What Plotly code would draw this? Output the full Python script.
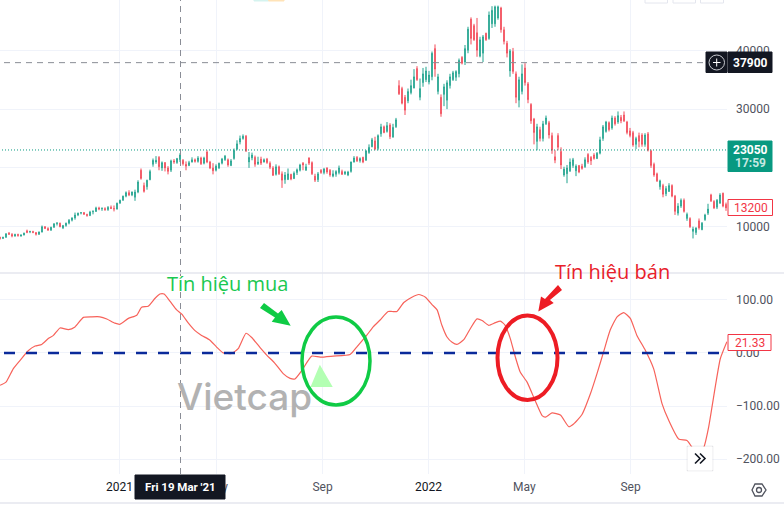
"""Vietcap chart: daily candles with an oscillator pane and hand drawn buy / sell signal marks."""

import plotly.graph_objects as go

WIDTH, HEIGHT = 784, 511
PLOT_W, PLOT_H, PANE_SPLIT = 727, 474, 273

GREEN = "#089981"
RED = "#f23645"
GRID = "#f0f3fa"
BORDER = "#e4e6ee"
DARK = "#131722"
AXIS_TEXT = "#50535e"
FONT = "Roboto"

# candles, in thousands
opens = [
    8.2, 8.0, 8.2, 8.9, 8.7, 8.4, 8.7, 8.4, 8.6, 9.3,
    9.1, 9.2, 9.0, 8.7, 9.1, 10.0, 9.7, 9.4, 9.9, 10.5,
    10.6, 9.8, 10.2, 10.6, 11.1, 11.5, 12.0, 12.3, 12.4, 12.1,
    11.9, 12.5, 12.6, 13.2, 13.0, 13.1, 12.9, 13.3, 13.1, 13.0,
    14.0, 14.5, 15.2, 15.8, 15.4, 15.0, 15.9, 19.6, 17.0, 16.8,
    18.0, 20.6, 21.0, 21.8, 20.0, 20.9, 20.0, 19.6, 21.2, 20.9,
    21.4, 21.3, 20.6, 20.4, 21.0, 21.4, 21.1, 21.7, 20.8, 22.7,
    21.0, 20.0, 19.6, 20.0, 20.8, 21.4, 21.4, 20.4, 21.6, 23.2,
    24.4, 25.0, 25.4, 21.0, 21.7, 21.8, 20.7, 21.5, 21.0, 21.5,
    20.8, 20.0, 18.9, 20.2, 19.0, 18.0, 18.0, 18.9, 18.2, 19.2,
    19.6, 20.8, 19.6, 21.7, 20.9, 18.6, 18.0, 19.6, 19.2, 20.0,
    19.6, 18.6, 18.9, 19.2, 19.4, 19.0, 18.8, 19.4, 21.0, 21.8,
    21.2, 21.8, 21.3, 22.6, 23.6, 24.6, 23.3, 25.8, 27.0, 26.2,
    27.3, 25.2, 27.0, 34.0, 33.5, 32.0, 31.4, 32.8, 33.6, 36.9,
    32.0, 34.5, 35.0, 34.6, 35.5, 40.3, 33.0, 32.0, 32.5, 31.5,
    34.0, 35.0, 35.4, 36.0, 38.8, 38.0, 40.0, 45.3, 44.2, 43.0,
    39.0, 39.5, 42.9, 42.0, 44.5, 44.5, 45.5, 47.2, 43.5, 41.2,
    36.5, 39.8, 36.0, 31.5, 33.0, 37.0, 34.3, 30.8, 28.3, 24.5,
    26.5, 25.0, 27.5, 27.7, 25.5, 21.9, 25.5, 22.8, 18.8, 19.0,
    19.5, 20.4, 19.5, 20.4, 20.3, 20.2, 22.3, 21.8, 22.2, 21.6,
    22.5, 25.0, 26.2, 27.7, 26.8, 28.5, 27.8, 28.6, 29.0, 27.8,
    26.3, 26.0, 24.0, 25.5, 25.6, 24.0, 25.8, 22.9, 20.6, 19.0,
    16.8, 17.0, 15.6, 16.0, 17.0, 15.2, 12.3, 13.5, 14.5, 11.4,
    11.4, 9.2, 9.0, 11.0, 9.5, 11.2, 12.3, 15.4, 14.3, 13.3,
    14.0, 15.7, 13.8,
]
highs = [
    8.3, 8.3, 8.9, 9.1, 8.9, 8.8, 8.8, 8.7, 9.0, 9.5,
    9.3, 9.3, 9.1, 9.2, 10.2, 10.1, 9.9, 10.0, 10.6, 10.8,
    10.7, 10.3, 10.7, 11.3, 11.6, 12.4, 12.4, 12.5, 12.5, 12.2,
    12.7, 12.8, 13.4, 13.4, 13.3, 13.3, 13.5, 13.6, 13.6, 14.1,
    14.6, 15.3, 16.0, 16.2, 16.0, 16.3, 17.9, 19.9, 17.5, 18.0,
    19.7, 21.6, 22.0, 22.0, 21.1, 21.0, 20.3, 21.4, 21.5, 21.7,
    22.5, 21.5, 21.1, 21.2, 21.8, 21.6, 22.0, 21.9, 21.9, 23.0,
    21.2, 20.8, 20.6, 20.9, 21.7, 22.2, 21.6, 21.5, 23.3, 24.7,
    25.5, 25.7, 25.6, 22.7, 22.6, 22.1, 21.9, 21.9, 21.6, 21.7,
    21.1, 20.3, 20.6, 20.4, 19.4, 19.3, 19.9, 19.0, 19.4, 19.9,
    20.7, 21.0, 20.7, 21.8, 21.1, 19.0, 19.3, 19.8, 20.0, 20.1,
    19.8, 19.6, 19.6, 20.4, 19.7, 19.5, 19.5, 21.1, 22.0, 22.0,
    21.8, 21.9, 23.0, 24.0, 25.1, 25.3, 25.7, 27.5, 27.2, 27.8,
    27.6, 27.5, 28.5, 34.9, 33.8, 32.4, 33.5, 35.0, 36.8, 37.3,
    35.2, 37.0, 37.2, 36.5, 39.8, 41.0, 36.0, 32.5, 34.3, 34.9,
    36.0, 36.5, 36.6, 38.6, 39.0, 40.9, 44.0, 45.6, 44.5, 45.5,
    42.3, 42.6, 43.0, 46.6, 47.5, 47.6, 47.6, 47.4, 44.0, 41.6,
    40.2, 40.4, 36.4, 35.5, 37.6, 37.8, 34.6, 31.0, 28.5, 27.5,
    27.0, 28.0, 28.9, 28.0, 26.0, 23.0, 25.9, 23.5, 20.2, 20.5,
    21.6, 21.7, 20.6, 20.5, 20.7, 21.8, 22.5, 22.0, 22.5, 22.7,
    25.3, 27.3, 28.0, 27.9, 28.9, 28.8, 29.6, 29.0, 29.6, 28.0,
    26.8, 26.3, 25.3, 26.0, 25.9, 25.9, 26.1, 23.1, 20.9, 19.2,
    18.0, 17.3, 16.9, 17.4, 17.2, 15.4, 14.0, 14.8, 14.8, 12.4,
    11.6, 10.0, 9.9, 11.4, 10.8, 12.2, 13.9, 15.6, 14.5, 14.7,
    15.7, 15.8, 14.1,
]
lows = [
    7.8, 7.9, 8.1, 8.6, 8.2, 8.3, 8.3, 8.3, 8.5, 8.9,
    8.9, 8.9, 8.5, 8.6, 9.0, 9.6, 9.3, 9.3, 9.8, 10.2,
    9.9, 9.6, 10.0, 10.4, 10.9, 11.2, 11.8, 12.1, 12.0, 11.7,
    11.8, 12.1, 12.5, 12.8, 12.7, 12.7, 12.7, 13.0, 12.6, 12.9,
    13.9, 14.4, 15.0, 15.2, 15.2, 14.4, 15.7, 18.0, 15.8, 16.3,
    17.9, 20.2, 20.7, 19.6, 19.5, 19.4, 18.9, 19.3, 20.7, 20.7,
    21.0, 20.4, 19.6, 20.3, 20.9, 20.9, 20.9, 20.5, 20.6, 20.8,
    19.8, 18.9, 19.4, 19.8, 20.6, 21.2, 20.2, 20.3, 21.4, 23.0,
    24.0, 24.8, 22.7, 20.0, 21.3, 20.2, 20.5, 20.5, 20.9, 20.7,
    19.8, 18.7, 18.7, 18.8, 16.6, 17.3, 18.0, 17.9, 18.1, 18.8,
    19.4, 19.6, 19.5, 20.5, 18.8, 17.6, 17.6, 19.0, 18.9, 19.0,
    18.5, 18.4, 18.5, 18.9, 18.8, 18.8, 18.6, 19.2, 20.9, 21.0,
    20.9, 20.8, 21.2, 22.4, 23.5, 23.0, 23.0, 25.3, 25.9, 26.0,
    24.9, 25.2, 26.8, 32.4, 30.8, 29.0, 31.0, 32.5, 33.5, 34.8,
    31.5, 33.8, 34.6, 34.2, 34.9, 35.5, 32.5, 28.7, 30.5, 30.0,
    33.5, 34.8, 34.8, 35.4, 37.6, 37.5, 39.5, 41.0, 41.6, 38.9,
    38.8, 38.0, 41.6, 41.8, 43.8, 44.0, 45.2, 43.0, 41.0, 38.8,
    35.5, 36.0, 31.0, 30.3, 32.5, 34.0, 31.0, 27.5, 24.0, 23.0,
    24.5, 24.5, 27.3, 25.0, 22.4, 20.8, 23.0, 19.8, 18.5, 17.4,
    19.3, 20.0, 18.6, 19.1, 19.7, 20.0, 20.7, 20.5, 21.4, 21.5,
    22.3, 24.6, 26.0, 26.2, 26.5, 27.2, 27.5, 27.6, 27.8, 25.7,
    25.2, 23.6, 23.2, 23.5, 23.6, 23.6, 22.8, 20.0, 18.5, 17.6,
    16.3, 15.0, 15.2, 15.9, 15.0, 12.0, 11.9, 13.2, 12.4, 11.0,
    9.8, 8.0, 8.6, 9.5, 9.4, 11.0, 12.0, 14.2, 13.0, 13.0,
    13.9, 13.3, 12.7,
]
closes = [
    8.0, 8.2, 8.8, 8.7, 8.4, 8.7, 8.5, 8.6, 8.9, 9.0,
    9.2, 9.0, 8.7, 9.1, 10.0, 9.7, 9.4, 9.9, 10.5, 10.6,
    10.0, 10.2, 10.6, 11.1, 11.5, 12.0, 12.3, 12.4, 12.1, 11.9,
    12.5, 12.6, 13.2, 13.0, 13.1, 12.9, 13.3, 13.1, 13.0, 14.0,
    14.5, 15.2, 15.8, 15.4, 15.9, 15.9, 17.6, 18.2, 16.0, 17.9,
    19.4, 21.3, 21.3, 20.2, 20.9, 20.0, 19.4, 21.2, 21.0, 21.6,
    22.2, 20.7, 20.3, 20.9, 21.4, 21.1, 21.7, 20.7, 21.7, 21.0,
    20.0, 19.5, 20.3, 20.8, 21.5, 22.0, 20.5, 21.2, 23.0, 24.1,
    25.0, 25.4, 22.9, 21.8, 22.2, 20.6, 21.0, 20.8, 21.4, 20.9,
    20.1, 18.7, 20.2, 19.0, 17.9, 18.8, 19.0, 18.1, 19.1, 19.7,
    20.5, 20.5, 20.2, 20.8, 19.0, 17.9, 19.0, 19.2, 19.8, 19.3,
    18.8, 19.0, 19.4, 20.0, 18.9, 19.3, 19.3, 21.0, 21.7, 21.2,
    21.6, 21.0, 22.9, 23.5, 24.8, 23.2, 25.5, 27.0, 26.0, 27.2,
    25.3, 26.9, 28.2, 32.6, 31.0, 29.8, 33.0, 34.0, 35.5, 35.0,
    33.5, 36.0, 36.5, 35.8, 39.5, 36.8, 35.5, 29.2, 33.8, 34.5,
    35.5, 36.2, 36.4, 38.3, 37.8, 40.3, 43.6, 42.0, 41.8, 40.0,
    41.8, 42.3, 41.8, 46.0, 46.8, 47.4, 47.4, 43.5, 41.5, 39.5,
    39.9, 36.4, 32.0, 35.0, 36.0, 34.5, 31.6, 28.0, 26.0, 27.0,
    25.0, 27.5, 28.5, 25.6, 23.0, 21.3, 23.5, 20.5, 19.8, 20.0,
    21.0, 21.4, 20.3, 19.3, 19.9, 21.4, 21.0, 21.2, 21.6, 22.5,
    24.8, 27.0, 27.8, 26.5, 28.5, 27.5, 28.9, 28.0, 28.0, 26.0,
    25.5, 23.9, 25.0, 24.5, 24.0, 25.6, 23.0, 20.4, 18.8, 17.8,
    17.8, 15.5, 16.5, 17.0, 15.2, 12.6, 13.5, 14.5, 12.6, 12.1,
    10.0, 9.6, 9.8, 9.8, 10.6, 12.0, 13.0, 14.4, 13.2, 14.5,
    15.4, 13.5, 13.2,
]
sessions = list(range(len(closes)))

# oscillator, read at its turning points
osc_sessions = [
    0, 2, 4.4, 6.7, 9.4, 11.7, 13.9, 16.1, 17.8, 20, 22.8, 25, 27.8, 30.6, 33.3, 35.6, 38.3, 40,
    42.8, 45.6, 47.2, 49.4, 51.7, 53.3, 54.7, 56.7, 58.9, 60.6, 62.8, 65, 67.2, 70, 72.2, 74.4,
    77.2, 79.4, 82, 83.9, 86.7, 88.9, 91.7, 94.4, 96.7, 98.3, 100.6, 103.9, 106.7, 111.1, 116.7,
    118.9, 122.2, 124.4, 126.7, 129.4, 130.7, 132.3, 134.6, 137.3, 139.6, 141.8, 144, 145.7,
    147.3, 149, 150.7, 152.3, 154.6, 156.8, 159, 160.7, 162.9, 165.1, 166.8, 168.4, 170.1, 171.8,
    173.4, 175.7, 178.4, 180.7, 181.8, 184, 186.8, 189.6, 191.2, 194, 196.8, 199, 201.2, 203.4,
    205.7, 207.9, 210.1, 212.3, 215.1, 217.9, 220.7, 222.9, 226.2, 229, 230.7, 232.6, 234.6,
    236.2, 238.5, 240.1, 242.3,
]
osc_values = [
    -61, -55, -30, -14, 4, 13, 16, 27, 33, 47, 44, 49, 67, 68, 68, 64, 56, 54,
    65, 71, 86, 88, 103, 111, 111, 97, 81, 73, 56, 42, 33, 24, 11, 0,
    -1, 8, 37, 29, 10, -4, -20, -39, -48, -49, -33, -6, -8, -6, -3,
    11, 33, 49, 62, 78, 78, 78, 95, 105, 110, 105, 91, 81,
    52, 30, 20, 16, 25, 46, 64, 61, 52, 57, 60, 52, 27, -8,
    -36, -55, -90, -118, -121, -113, -117, -139, -134, -116, -77, -39, 2, 43,
    68, 76, 65, 33, 5, -30, -96, -127, -162, -165, -178, -195, -178,
    -140, -61, -11, 21,
]

price_ticks = [10000, 20000, 30000, 40000]
osc_ticks = [-200, -100, 0, 100]
time_ticks = [39.8, 72.2, 107.5, 142.8, 174.8, 210.2]
time_labels = ["2021", "May", "Sep", "2022", "May", "Sep"]

CROSS_SESSION = 60.17
CROSS_PRICE = 37900
LAST_PRICE = 23050


def px_x(x):
    return x / PLOT_W


def px_y(y):
    return 1 - y / PLOT_H


def line(x0, y0, x1, y1, color, width=1, dash="solid"):
    return dict(type="line", xref="paper", yref="paper", x0=px_x(x0), x1=px_x(x1), y0=px_y(y0), y1=px_y(y1),
                line=dict(color=color, width=width, dash=dash))


def rect(x0, y0, x1, y1, fill, stroke=None, width=1):
    return dict(type="rect", xref="paper", yref="paper", x0=px_x(x0), x1=px_x(x1), y0=px_y(y0), y1=px_y(y1),
                fillcolor=fill, line=dict(color=stroke or fill, width=width))


def ellipse(x0, y0, x1, y1, color, width):
    return dict(type="circle", xref="paper", yref="paper", x0=px_x(x0), x1=px_x(x1), y0=px_y(y0), y1=px_y(y1),
                line=dict(color=color, width=width))


def poly(points, fill=None, color=None, width=0, close=True):
    path = "M " + " L ".join(f"{px_x(x):.5f},{px_y(y):.5f}" for x, y in points) + (" Z" if close else "")
    return dict(type="path", xref="paper", yref="paper", path=path, fillcolor=fill or "rgba(0,0,0,0)",
                line=dict(color=color or "rgba(0,0,0,0)", width=width))


def label(x, y, text, size=12, color=AXIS_TEXT, font=FONT, weight=None):
    return dict(xref="paper", yref="paper", x=px_x(x), y=px_y(y), text=text, showarrow=False,
                xanchor="center", yanchor="middle", font=dict(family=font, size=size, color=color, weight=weight))


fig = go.Figure()
fig.add_trace(go.Candlestick(
    x=sessions,
    open=[v * 1000 for v in opens], high=[v * 1000 for v in highs],
    low=[v * 1000 for v in lows], close=[v * 1000 for v in closes],
    increasing=dict(line=dict(color=GREEN, width=0.9), fillcolor=GREEN),
    decreasing=dict(line=dict(color=RED, width=0.9), fillcolor=RED),
    whiskerwidth=0, hoverinfo="skip",
))
fig.add_trace(go.Scatter(
    x=osc_sessions, y=osc_values, yaxis="y2", mode="lines",
    line=dict(color="#f7625a", width=1.2, shape="spline", smoothing=0.5), hoverinfo="skip",
))

shapes = [
    # price levels and crosshair
    dict(type="line", xref="paper", yref="y", x0=px_x(4), x1=px_x(706), y0=CROSS_PRICE, y1=CROSS_PRICE,
         line=dict(color="#8a8d96", width=1, dash="6px,5px")),
    dict(type="line", xref="paper", yref="y", x0=px_x(2), x1=1, y0=LAST_PRICE, y1=LAST_PRICE,
         line=dict(color=GREEN, width=1, dash="1px,2px")),
    dict(type="line", xref="paper", yref="y2", x0=px_x(4), x1=1, y0=0, y1=0,
         line=dict(color="#0a2a9a", width=2.5, dash="11px,11px")),
    dict(type="line", xref="x", yref="paper", x0=CROSS_SESSION, x1=CROSS_SESSION, y0=0, y1=1,
         line=dict(color="#8a8d96", width=1, dash="6px,5px")),
    line(0, PANE_SPLIT, WIDTH, PANE_SPLIT, BORDER, 1.5),
    line(0, 503, WIDTH, 503, BORDER, 1.5),
    # watermark logo
    poly([(320, 367), (312, 386), (331, 386)], fill="#b3ffb3", color="#b3ffb3", width=2),
    # hand drawn marks
    ellipse(302, 317, 370, 405, "#0fcb45", 3.5),
    ellipse(497.5, 315.5, 557.5, 400, "#ed1c24", 4),
    poly([(264, 303), (278, 313.5), (281.7, 310), (290.7, 325.7), (271.7, 321.7), (275, 317.5), (260, 308)],
         fill="#0fcb45"),
    poly([(558, 285), (562, 290), (550, 300), (553.7, 303), (538.3, 311.5), (541, 296.5), (545, 299)],
         fill="#ed1c24"),
    # scale tags
    rect(706, 52, 727, 72.5, DARK),
    rect(728, 52, 772, 72.5, DARK),
    rect(728, 141, 772, 171.5, GREEN),
    rect(728, 199.5, 772.5, 215.5, "#ffffff", RED),
    rect(728, 334.5, 771, 350.5, "#ffffff", RED),
    rect(135, 475, 225, 499, DARK),
    # plus icon
    ellipse(709, 55, 724.5, 70, "#c9cbd1", 1),
    line(713, 62.5, 720.5, 62.5, "#ffffff"),
    line(716.7, 58.5, 716.7, 66.5, "#ffffff"),
    # scroll button
    rect(687, 446, 713, 471, "rgba(19,23,34,0.06)"),
    rect(688, 447, 712, 470, "#ffffff"),
    poly([(695, 453.5), (700, 458.5), (695, 463.5)], color=DARK, width=1.6, close=False),
    poly([(700, 453.5), (705, 458.5), (700, 463.5)], color=DARK, width=1.6, close=False),
    # settings icon
    poly([(752, 490), (755, 484), (762, 484), (766, 490), (762, 496), (755, 496)], color=AXIS_TEXT, width=1.3),
    ellipse(756.5, 487.5, 761.5, 492.5, AXIS_TEXT, 1.3),
    # cut off toolbar at the top
    rect(254, -2, 268.7, 1, "#d5f3ef"),
    rect(268.7, -2, 284, 1, "#ffe3b8"),
    rect(645, -6, 667.5, 3, "#ffffff", BORDER),
    rect(673, -6, 695.5, 3, "#ffffff", BORDER),
    rect(700.5, -6, 723.5, 3, "#ffffff", BORDER),
]

annotations = [
    label(750, 62.5, "<b>37900</b>", 12, "#ffffff"),
    label(750, 149.5, "<b>23050</b>", 12, "#ffffff"),
    label(750, 163, "<b>17:59</b>", 12, "#c6e8e1"),
    label(750.5, 207.5, "13200", 12, RED),
    label(749.5, 342.5, "21.33", 12, RED),
    label(180, 487, "<b>Fri 19 Mar '21</b>", 11.5, "#ffffff"),
    label(227.5, 283, "Tín hiệu mua", 20, "#1ac850", "Open Sans"),
    label(612, 271, "Tín hiệu bán", 20, "#e8202a", "Open Sans"),
    label(244, 396, "Vietcap", 37, "#b2b2b2", "Inter", 500),
]

fig.update_layout(
    width=WIDTH, height=HEIGHT, autosize=False,
    margin=dict(l=0, r=WIDTH - PLOT_W, t=0, b=HEIGHT - PLOT_H, pad=0),
    paper_bgcolor="#ffffff", plot_bgcolor="#ffffff",
    showlegend=False, hovermode=False, dragmode=False, boxgap=0.8,
    font=dict(family=FONT, size=12, color=AXIS_TEXT),
    shapes=shapes, annotations=annotations,
    xaxis=dict(
        range=[0, PLOT_W / 3], anchor="y2", rangeslider=dict(visible=False), tickmode="array",
        tickvals=time_ticks,
        ticktext=[f'<span style="color:{DARK if t.isdigit() else AXIS_TEXT}">{t}</span>' for t in time_labels],
        showgrid=True, gridcolor=GRID, gridwidth=1, showline=False, zeroline=False, ticks="", ticklabelstandoff=4,
    ),
    yaxis=dict(
        domain=[1 - PANE_SPLIT / PLOT_H, 1], range=[2126, 48555], side="right", anchor="x",
        tickmode="array", tickvals=price_ticks, tickformat="d", ticklabelstandoff=8,
        showgrid=True, gridcolor=GRID, showline=False, zeroline=False, ticks="",
    ),
    yaxis2=dict(
        domain=[0, 1 - PANE_SPLIT / PLOT_H], range=[-228, 150.5], side="right", anchor="x",
        tickmode="array", tickvals=osc_ticks, tickformat=".2f", ticklabelstandoff=8,
        showgrid=True, gridcolor=GRID, showline=False, zeroline=False, ticks="",
    ),
)

fig.write_html("out.html", config=dict(displayModeBar=False), post_script="document.body.style.margin='0';")
